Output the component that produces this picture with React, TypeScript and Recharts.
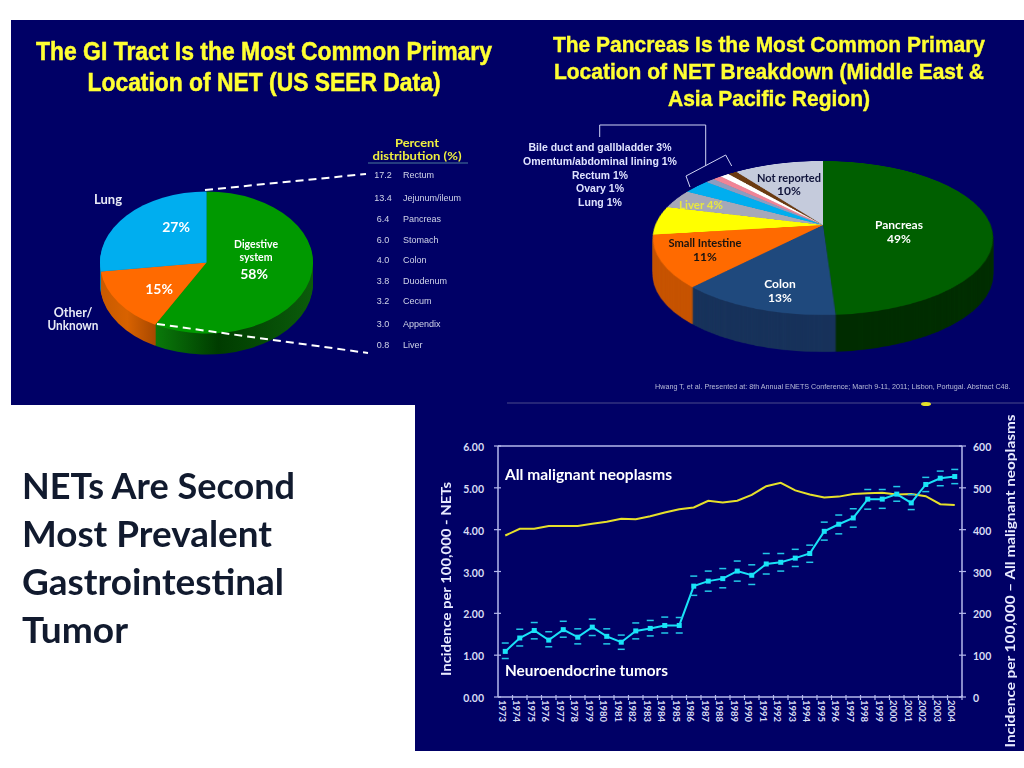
import React from "react";
import {
  PieChart,
  Pie,
  Cell,
  ComposedChart,
  Line,
  XAxis,
  YAxis,
  ReferenceLine,
} from "recharts";

const NAVY = "#000066";
const AXIS = "#b4b8ec";
const LABEL = "Lato, sans-serif";
const ARIAL = "'Liberation Sans', Arial, sans-serif";

// left pie (US SEER)
const seerValues = [58, 15, 27];
const seerTop = ["#009900", "#ff6a00", "#00aeef"];
const seerSide = ["url(#seerGreen)", "url(#seerOrange)", "#007ab0"];

const seerSites = ["Rectum", "Jejunum/ileum", "Pancreas", "Stomach", "Colon", "Duodenum", "Cecum", "Appendix", "Liver"];
const seerPercents = ["17.2", "13.4", "6.4", "6.0", "4.0", "3.8", "3.2", "3.0", "0.8"];
const seerRows = [175, 198, 219, 239.5, 260, 281, 301, 323.5, 345];

// right pie (Middle East & Asia Pacific)
const regionValues = [49, 13, 11, 6, 4, 3, 1, 1, 1, 1, 10];
const regionTop = ["#005f00", "#1f497d", "#ff6a00", "#ffff00", "#a6a8b8", "#00aeef", "#8c9cc0", "#f08496", "#ffffff", "#6b3a10", "#c5cbdc"];
const regionSide = ["#002c00", "#16315a", "#c65200", "#b0b000", "#707080", "#007ab0", "#606c88", "#a85a68", "#b0b0b0", "#40220a", "#888c98"];
const regionMinor = ["Bile duct and gallbladder 3%", "Omentum/abdominal lining 1%", "Rectum 1%", "Ovary 1%", "Lung 1%"];
const regionMinorRows = [147, 161, 174.5, 188, 202];
const regionMinorWidths = [143, 154, 56, 48, 44];

// incidence lines
const years = [1973, 1974, 1975, 1976, 1977, 1978, 1979, 1980, 1981, 1982, 1983, 1984, 1985, 1986, 1987, 1988, 1989, 1990, 1991, 1992, 1993, 1994, 1995, 1996, 1997, 1998, 1999, 2000, 2001, 2002, 2003, 2004];
const netRate = [1.09, 1.41, 1.59, 1.36, 1.61, 1.43, 1.67, 1.45, 1.31, 1.58, 1.64, 1.71, 1.71, 2.65, 2.77, 2.83, 3.01, 2.91, 3.18, 3.22, 3.32, 3.43, 3.96, 4.13, 4.28, 4.73, 4.73, 4.85, 4.64, 5.08, 5.23, 5.27];
const netHigh = [1.29, 1.62, 1.78, 1.56, 1.81, 1.63, 1.86, 1.63, 1.48, 1.77, 1.83, 1.91, 1.9, 2.89, 3.01, 3.07, 3.25, 3.16, 3.43, 3.43, 3.53, 3.63, 4.18, 4.35, 4.5, 4.96, 4.96, 5.03, 4.84, 5.25, 5.4, 5.44];
const netLow = [0.92, 1.22, 1.39, 1.2, 1.43, 1.27, 1.47, 1.27, 1.14, 1.39, 1.46, 1.53, 1.53, 2.43, 2.53, 2.61, 2.77, 2.69, 2.94, 3.01, 3.12, 3.22, 3.75, 3.9, 4.06, 4.49, 4.51, 4.68, 4.48, 4.91, 5.05, 5.1];
const allRate = [386, 402, 402, 409, 409, 409, 414, 419, 426, 425, 432, 441, 449, 453, 469, 465, 469, 483, 504, 512, 494, 484, 477, 479, 485, 487, 488, 484, 485, 480, 461, 459];
const netTicks = [0, 1, 2, 3, 4, 5, 6];
const allTicks = [0, 100, 200, 300, 400, 500, 600];

const lineData = years.map((year, i) => ({
  year,
  net: netRate[i],
  high: netHigh[i],
  low: netLow[i],
  all: allRate[i],
}));

function Pie3D({ values, top, side, cx, cy, radius, depth, transform }: any) {
  const size = Math.ceil(radius * 2) + 2;
  const layer = (colors: string[], offset: number) => (
    <div
      key={offset}
      style={{
        position: "absolute",
        left: cx - size / 2,
        top: cy - size / 2 + offset,
        width: size,
        height: size,
        transform,
      }}
    >
      <PieChart width={size} height={size} margin={{ top: 0, right: 0, bottom: 0, left: 0 }}>
        <Pie
          data={values.map((value: number, i: number) => ({ name: String(i), value }))}
          dataKey="value"
          cx="50%"
          cy="50%"
          innerRadius={0}
          outerRadius={radius}
          startAngle={90}
          endAngle={-270}
          stroke="none"
          isAnimationActive={false}
        >
          {values.map((_: number, i: number) => (
            <Cell key={i} fill={colors[i]} />
          ))}
        </Pie>
      </PieChart>
    </div>
  );
  const offsets = Array.from({ length: depth }, (_, i) => depth - i);
  return (
    <>
      {offsets.map((d) => layer(side, d))}
      {layer(top, 0)}
    </>
  );
}

// svg text, centred on y; width squeezes it to the measured length
function T({ x, y, size, color = "#ffffff", font = LABEL, weight = 700, anchor = "middle", width, rotate, heavy, children }: any) {
  return (
    <text
      x={x}
      y={y}
      fontSize={size}
      fill={color}
      fontFamily={font}
      fontWeight={weight}
      textAnchor={anchor}
      dominantBaseline="central"
      textLength={width}
      lengthAdjust={width ? "spacingAndGlyphs" : undefined}
      stroke={heavy ? color : undefined}
      strokeWidth={heavy}
      transform={rotate ? `rotate(${rotate} ${x} ${y})` : undefined}
    >
      {children}
    </text>
  );
}

const YearTick = ({ x, y, payload }: any) => (
  <g>
    <line x1={x + 7.25} x2={x + 7.25} y1={y - 2} y2={y + 3} stroke={AXIS} strokeWidth={1.2} />
    <text
      transform={`translate(${x - 3} ${y + 14}) rotate(90)`}
      fontSize={9.5}
      fontWeight={700}
      fontFamily={LABEL}
      fill="#d8dcf4"
      textAnchor="middle"
      dominantBaseline="central"
    >
      {payload.value}
    </text>
  </g>
);

const NetTick = ({ x, y, payload }: any) => (
  <g>
    <line x1={x - 4} x2={x + 3} y1={y} y2={y} stroke={AXIS} strokeWidth={1.2} />
    <text x={x - 14} y={y + 1} fontSize={10.5} fontWeight={700} fontFamily={LABEL} fill="#d8dcf4" textAnchor="end" dominantBaseline="central">
      {payload.value.toFixed(2)}
    </text>
  </g>
);

const AllTick = ({ x, y, payload }: any) => (
  <g>
    <line x1={x - 3} x2={x + 4} y1={y} y2={y} stroke={AXIS} strokeWidth={1.2} />
    <text x={x + 11} y={y + 1} fontSize={10.5} fontWeight={700} fontFamily={LABEL} fill="#d8dcf4" textAnchor="start" dominantBaseline="central">
      {payload.value}
    </text>
  </g>
);

const squareDot = (props: any) => (
  <rect key={props.index} x={props.cx - 2.5} y={props.cy - 2.5} width={5} height={5} fill="#19e3f7" />
);
const dashDot = (props: any) => (
  <rect key={props.index} x={props.cx - 3.5} y={props.cy - 0.75} width={7} height={1.5} fill="#22c8e8" />
);

function Incidence() {
  return (
    <ComposedChart
      width={609}
      height={345}
      data={lineData}
      margin={{ top: 41, right: 22, bottom: 28, left: 43 }}
    >
      <XAxis
        dataKey="year"
        scale="band"
        interval={0}
        height={25}
        tick={<YearTick />}
        tickLine={false}
        tickSize={0}
        tickMargin={0}
        stroke={AXIS}
        strokeWidth={1.5}
      />
      <YAxis
        yAxisId="net"
        width={40}
        domain={[0, 6]}
        ticks={netTicks}
        tick={<NetTick />}
        tickLine={false}
        tickSize={0}
        tickMargin={0}
        stroke={AXIS}
        strokeWidth={1.5}
      />
      <YAxis
        yAxisId="all"
        orientation="right"
        width={40}
        domain={[0, 600]}
        ticks={allTicks}
        tick={<AllTick />}
        tickLine={false}
        tickSize={0}
        tickMargin={0}
        stroke={AXIS}
        strokeWidth={1.5}
      />
      <ReferenceLine yAxisId="net" y={6} stroke={AXIS} strokeWidth={1.5} />
      <Line yAxisId="all" dataKey="all" stroke="#e6e02a" strokeWidth={2} dot={false} isAnimationActive={false} />
      <Line yAxisId="net" dataKey="high" stroke="none" dot={dashDot} isAnimationActive={false} />
      <Line yAxisId="net" dataKey="low" stroke="none" dot={dashDot} isAnimationActive={false} />
      <Line yAxisId="net" dataKey="net" stroke="#19e3f7" strokeWidth={2} dot={squareDot} isAnimationActive={false} />
    </ComposedChart>
  );
}

export default function App() {
  return (
    <div style={{ position: "absolute", left: 0, top: 0, width: 1024, height: 768, background: "#ffffff", overflow: "hidden" }}>
      <div style={{ position: "absolute", left: 11, top: 20, width: 1013, height: 385, background: NAVY }} />
      <div style={{ position: "absolute", left: 415, top: 405, width: 609, height: 346, background: NAVY }} />

      <Pie3D
        values={seerValues}
        top={seerTop}
        side={seerSide}
        cx={206}
        cy={262}
        radius={106.5}
        depth={21}
        transform="scaleY(0.667)"
      />
      <Pie3D
        values={regionValues}
        top={regionTop}
        side={regionSide}
        cx={823}
        cy={225}
        radius={167.6}
        depth={37}
        transform="perspective(888.6px) rotateX(63.5deg)"
      />

      <div style={{ position: "absolute", left: 415, top: 405 }}>
        <Incidence />
      </div>

      <svg width={1024} height={768} style={{ position: "absolute", left: 0, top: 0, pointerEvents: "none" }}>
        <defs>
          <linearGradient id="seerGreen" x1="0" x2="1" y1="0" y2="0">
            <stop offset="0%" stopColor="#0a7a0a" />
            <stop offset="40%" stopColor="#003c00" />
            <stop offset="100%" stopColor="#0b5c0b" />
          </linearGradient>
          <linearGradient id="seerOrange" x1="0" x2="1" y1="0" y2="0">
            <stop offset="0%" stopColor="#c85a00" />
            <stop offset="25%" stopColor="#d86200" />
            <stop offset="52%" stopColor="#a84800" />
            <stop offset="100%" stopColor="#a84800" />
          </linearGradient>
        </defs>

        {/* left panel */}
        <T x={264} y={51} size={25} color="#ffff33" font={ARIAL} width={456} heavy={0.5}>The GI Tract Is the Most Common Primary</T>
        <T x={264} y={82} size={25} color="#ffff33" font={ARIAL} width={353} heavy={0.5}>Location of NET (US SEER Data)</T>
        <T x={417} y={142} size={12} color="#f0f040" width={44}>Percent</T>
        <T x={417} y={155} size={12} color="#f0f040" width={89}>distribution (%)</T>
        <line x1={368} x2={468} y1={163} y2={163} stroke="#4a7a9a" strokeWidth={1} />
        {seerSites.map((site, i) => (
          <React.Fragment key={site}>
            <T x={383} y={seerRows[i]} size={9} color="#d0d4e8" font={ARIAL} weight={400}>{seerPercents[i]}</T>
            <T x={403} y={seerRows[i]} size={9} color="#d0d4e8" font={ARIAL} weight={400} anchor="start">{site}</T>
          </React.Fragment>
        ))}
        <line x1={205} y1={190} x2={366} y2={174} stroke="#ffffff" strokeWidth={2} strokeDasharray="8 5" />
        <line x1={157} y1={324} x2={368} y2={353} stroke="#ffffff" strokeWidth={2} strokeDasharray="8 5" />
        <T x={108} y={199} size={13} color="#e8eaf6">Lung</T>
        <T x={73} y={312} size={12.5} color="#e8eaf6">Other/</T>
        <T x={73} y={325} size={12.5} color="#e8eaf6" width={51}>Unknown</T>
        <T x={176} y={226} size={14}>27%</T>
        <T x={159} y={288} size={14}>15%</T>
        <T x={256} y={243} size={12} width={44}>Digestive</T>
        <T x={256} y={256} size={12} width={33}>system</T>
        <T x={254} y={273} size={14}>58%</T>

        {/* right panel */}
        <T x={769} y={44.5} size={21.5} color="#ffff33" font={ARIAL} width={432} heavy={0.4}>The Pancreas Is the Most Common Primary</T>
        <T x={769} y={72} size={21.5} color="#ffff33" font={ARIAL} width={430} heavy={0.4}>Location of NET Breakdown (Middle East &amp;</T>
        <T x={769} y={99} size={21.5} color="#ffff33" font={ARIAL} width={202} heavy={0.4}>Asia Pacific Region)</T>
        {regionMinor.map((name, i) => (
          <T key={name} x={600} y={regionMinorRows[i]} size={11} color="#dfe3ff" font={ARIAL} width={regionMinorWidths[i]}>{name}</T>
        ))}
        <polyline points="599.7,137 599.7,125 705.7,125 705.7,166" fill="none" stroke="#d0d4f4" strokeWidth={1} />
        <polyline points="690,187 686,176 725.7,155 731.7,166" fill="none" stroke="#d0d4f4" strokeWidth={1} />
        <T x={789} y={177} size={12} color="#10143a" width={64}>Not reported</T>
        <T x={789} y={190.5} size={12} color="#10143a">10%</T>
        <T x={701} y={204} size={11.5} color="#e8e840">Liver 4%</T>
        <T x={705} y={242} size={12} color="#1a1410" width={73}>Small Intestine</T>
        <T x={705} y={256} size={12} color="#1a1410">11%</T>
        <T x={780} y={283} size={12}>Colon</T>
        <T x={780} y={297} size={12}>13%</T>
        <T x={899} y={224} size={12}>Pancreas</T>
        <T x={899} y={238} size={12}>49%</T>
        <T x={655} y={386} size={7.2} color="#b8bcd8" font={ARIAL} weight={400} anchor="start">
          Hwang T, et al. Presented at: 8th Annual ENETS Conference; March 9-11, 2011; Lisbon, Portugal. Abstract C48.
        </T>
        <line x1={507} x2={1024} y1={403} y2={403} stroke="#4a4a8a" strokeWidth={1} />
        <ellipse cx={926} cy={404} rx={5} ry={2} fill="#e6e02a" />

        {/* slide heading */}
        <T x={22} y={485} size={36} color="#111a2e" anchor="start" width={273}>NETs Are Second</T>
        <T x={22} y={533} size={36} color="#111a2e" anchor="start" width={250}>Most Prevalent</T>
        <T x={22} y={581} size={36} color="#111a2e" anchor="start" width={262}>Gastrointestinal</T>
        <T x={22} y={629} size={36} color="#111a2e" anchor="start" width={106}>Tumor</T>

        {/* line chart annotations */}
        <T x={505} y={474} size={15} anchor="start" width={167}>All malignant neoplasms</T>
        <T x={505} y={670} size={15} anchor="start" width={163}>Neuroendocrine tumors</T>
        <T x={445} y={579} size={14} color="#e8eaff" rotate={-90} width={194}>Incidence per 100,000 - NETs</T>
        <T x={1009} y={581} size={14} color="#e8eaff" rotate={-90} width={333}>Incidence per 100,000 – All malignant neoplasms</T>
      </svg>
    </div>
  );
}
